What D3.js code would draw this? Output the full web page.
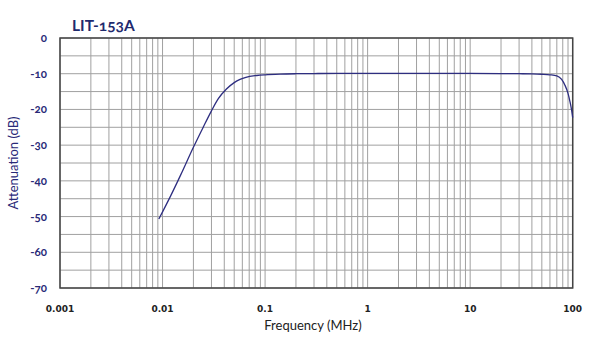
<!DOCTYPE html>
<html><head><meta charset="utf-8">
<script src="https://cdn.jsdelivr.net/npm/d3@7"></script>
<style>body{margin:0;background:#fff}svg{display:block}.onum{font-variant-numeric:oldstyle-nums;font-feature-settings:"onum" 1}</style>
</head><body><div id="c"></div>
<script>
const title = "LIT-153A";
const freq = [0.0092, 0.012, 0.015, 0.02, 0.025, 0.03, 0.035, 0.042, 0.05, 0.057, 0.065, 0.083, 0.1, 0.14, 0.2, 0.3, 0.5, 1, 2, 5, 10, 20, 30, 40, 50, 60, 70, 78, 84, 90, 94, 97, 100];
const atten = [-50.7, -44.2, -38.4, -30.6, -24.9, -20.4, -17.0, -14.3, -12.5, -11.6, -11.0, -10.5, -10.3, -10.1, -10.0, -9.95, -9.9, -9.9, -9.9, -9.9, -9.9, -9.95, -10.0, -10.05, -10.15, -10.3, -10.6, -11.6, -13.2, -15.5, -17.8, -19.8, -22.3];
const xTicks = [0.001, 0.01, 0.1, 1, 10, 100];
const xTickLabels = ["0.001", "0.01", "0.1", "1", "10", "100"];
const yTicks = [0, -10, -20, -30, -40, -50, -60, -70];
const yGrid = [0, -5, -10, -15, -20, -25, -30, -35, -40, -45, -50, -55, -60, -65, -70];
const xLabel = "Frequency (MHz)";
const yLabel = "Attenuation (dB)";

const W = 600, H = 343;
const m = {l: 60, r: 27.3, t: 38, b: 55};
const svg = d3.select("#c").append("svg").attr("width", W).attr("height", H);
const x = d3.scaleLog().domain([0.001, 100]).range([m.l, W - m.r]);
const y = d3.scaleLinear().domain([-70, 0]).range([H - m.b, m.t]);

const minor = [];
for (let e = -3; e < 2; e++) for (let k = 2; k <= 9; k++) minor.push(k * Math.pow(10, e));
const g = svg.append("g");
g.selectAll(".vx").data(minor.concat(xTicks)).enter().append("line")
  .attr("x1", d => x(d)).attr("x2", d => x(d)).attr("y1", y(0)).attr("y2", y(-70))
  .attr("stroke", "#a0a0a0").attr("stroke-width", 1);
g.selectAll(".hy").data(yGrid).enter().append("line")
  .attr("x1", x(0.001)).attr("x2", x(100)).attr("y1", d => y(d)).attr("y2", d => y(d))
  .attr("stroke", "#a0a0a0").attr("stroke-width", 1);
svg.append("rect").attr("x", x(0.001)).attr("y", y(0)).attr("width", x(100) - x(0.001)).attr("height", y(-70) - y(0))
  .attr("fill", "none").attr("stroke", "#444").attr("stroke-width", 1.5);

svg.append("path").datum(freq.map((f, i) => [f, atten[i]]))
  .attr("d", d3.line().x(d => x(d[0])).y(d => y(d[1])).curve(d3.curveMonotoneX))
  .attr("fill", "none").attr("stroke", "#2e2e80").attr("stroke-width", 1.3);

svg.selectAll(".xt").data(xTicks).enter().append("text")
  .attr("x", d => x(d)).attr("y", 312).attr("text-anchor", "middle")
  .attr("font-family", "DejaVu Sans").attr("font-weight", "bold").attr("font-size", 9)
  .attr("fill", "#222").text((d, i) => xTickLabels[i]);
svg.selectAll(".yt").data(yTicks).enter().append("text").attr("class", "onum")
  .attr("x", 47).attr("y", d => y(d) + 4).attr("text-anchor", "end")
  .attr("font-family", "Lato").attr("font-weight", "bold").attr("font-size", 11.5)
  .attr("fill", "#2a2a78").text(d => d);
svg.append("text").attr("x", 313).attr("y", 330).attr("text-anchor", "middle")
  .attr("font-family", "Lato").attr("font-size", 13).attr("fill", "#222").text(xLabel);
svg.append("text").attr("transform", "translate(18,163) rotate(-90)").attr("text-anchor", "middle")
  .attr("font-family", "Lato").attr("font-size", 13).attr("fill", "#2a2a78").text(yLabel);
svg.append("text").attr("class", "onum").attr("x", 72).attr("y", 31)
  .attr("font-family", "Lato").attr("font-weight", "bold").attr("font-size", 15.5)
  .attr("fill", "#1f2a6e").text(title);
</script></body></html>
